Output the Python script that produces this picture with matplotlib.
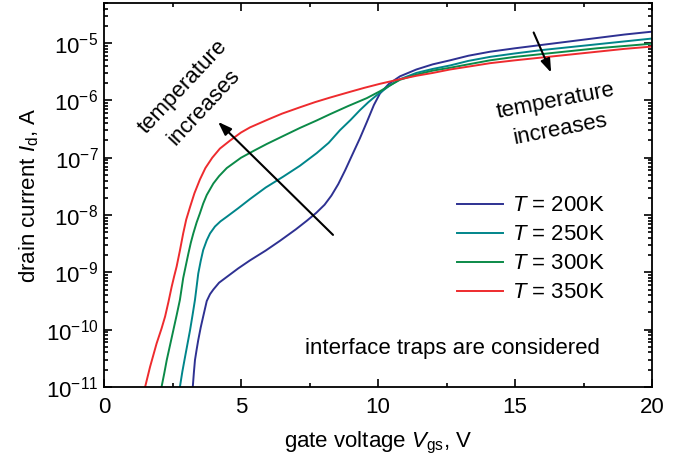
import numpy as np
import matplotlib
matplotlib.use("Agg")
import matplotlib.pyplot as plt
from matplotlib.ticker import FixedLocator, LogLocator, NullFormatter, FuncFormatter, MultipleLocator

plt.rcParams['font.family'] = ['Liberation Sans', 'DejaVu Sans']
plt.rcParams['mathtext.fontset'] = 'custom'
plt.rcParams['mathtext.rm'] = 'Liberation Sans'
plt.rcParams['mathtext.it'] = 'Liberation Sans:italic'

# ---- data (gate voltage V, log10 of drain current in A) ----
v_200 = [3.24, 3.28, 3.32, 3.38, 3.44, 3.53, 3.62, 3.75, 3.87, 3.99, 4.20, 4.48, 4.90, 5.33, 5.90, 6.42,
         7.00, 7.40, 7.75, 8.05, 8.30, 8.55, 8.80, 9.05, 9.34, 9.59, 9.85, 10.07, 10.40, 10.80, 11.40, 12.00, 12.63,
         13.30, 14.09, 15.0, 16.0, 17.0, 18.0, 19.0, 20.0]
l_200 = [-11.0, -10.75, -10.53, -10.35, -10.18, -9.96, -9.77, -9.50, -9.38, -9.30, -9.18, -9.08, -8.93, -8.79, -8.62, -8.45,
         -8.25, -8.10, -7.96, -7.82, -7.66, -7.46, -7.22, -6.96, -6.66, -6.38, -6.08, -5.88, -5.71, -5.58, -5.46, -5.37, -5.30,
         -5.22, -5.15, -5.09, -5.03, -4.97, -4.91, -4.85, -4.80]

v_250 = [2.77, 2.86, 2.96, 3.05, 3.14, 3.23, 3.32, 3.38, 3.44, 3.53, 3.62, 3.75, 3.87, 4.05, 4.25, 4.48, 4.90,
         5.33, 5.90, 6.54, 7.15, 7.76, 8.20, 8.61, 9.00, 9.34, 9.65, 9.95, 10.40, 10.80, 11.40, 12.00, 12.63,
         13.30, 14.09, 15.0, 16.0, 17.0, 18.0, 19.0, 20.0]
l_250 = [-11.0, -10.73, -10.47, -10.24, -10.01, -9.75, -9.48, -9.25, -9.02, -8.80, -8.61, -8.44, -8.32, -8.20, -8.11, -8.03, -7.88,
         -7.72, -7.52, -7.33, -7.14, -6.92, -6.74, -6.52, -6.34, -6.17, -6.03, -5.91, -5.75, -5.63, -5.52, -5.45, -5.39,
         -5.31, -5.24, -5.18, -5.12, -5.07, -5.02, -4.97, -4.92]

v_300 = [2.10, 2.20, 2.29, 2.41, 2.53, 2.65, 2.77, 2.89, 3.00, 3.08, 3.17, 3.26, 3.38, 3.50, 3.62, 3.75, 3.99,
         4.20, 4.48, 5.00, 5.50, 5.94, 6.50, 7.15, 7.76, 8.25, 8.90, 9.59, 10.07, 10.50, 10.80, 11.40, 12.00,
         12.63, 13.30, 14.09, 15.0, 16.0, 17.0, 18.0, 19.0, 20.0]
l_300 = [-11.0, -10.76, -10.53, -10.27, -10.01, -9.75, -9.48, -9.10, -8.85, -8.67, -8.48, -8.32, -8.13, -7.97, -7.80, -7.65, -7.45,
         -7.32, -7.18, -7.00, -6.87, -6.76, -6.63, -6.48, -6.35, -6.24, -6.10, -5.96, -5.84, -5.72, -5.64, -5.55, -5.48,
         -5.43, -5.37, -5.30, -5.24, -5.19, -5.14, -5.09, -5.05, -5.01]

v_350 = [1.50, 1.68, 1.92, 2.10, 2.23, 2.35, 2.47, 2.56, 2.65, 2.77, 2.89, 3.00, 3.14, 3.30, 3.50, 3.70, 3.95,
         4.23, 4.60, 5.00, 5.33, 6.00, 6.50, 7.15, 7.70, 8.25, 8.98, 9.50, 10.07, 10.80, 11.40, 12.00, 12.63,
         13.30, 14.09, 15.0, 16.0, 17.0, 18.0, 19.0, 20.0]
l_350 = [-11.0, -10.65, -10.24, -9.98, -9.77, -9.52, -9.25, -9.07, -8.90, -8.62, -8.32, -8.08, -7.86, -7.62, -7.38, -7.18, -7.00,
         -6.84, -6.70, -6.56, -6.47, -6.33, -6.23, -6.12, -6.03, -5.95, -5.85, -5.78, -5.71, -5.63, -5.57, -5.52, -5.46,
         -5.41, -5.35, -5.30, -5.25, -5.20, -5.15, -5.10, -5.06]

temps = ['200K', '250K', '300K', '350K']
colors = ['#2e3192', '#00858a', '#0b8a48', '#ee2b2e']
series_v = [v_200, v_250, v_300, v_350]
series_l = [l_200, l_250, l_300, l_350]

FS = 16

fig = plt.figure(figsize=(6.9, 4.63), dpi=100)
ax = fig.add_axes([104/690, (463-387)/463, (652-104)/690, (387-3)/463])

for T, c, vv, ll in zip(temps, colors, series_v, series_l):
    ax.plot(vv, 10**np.array(ll), color=c, lw=1.4, label=r'$\mathit{T}$ = ' + T,
            solid_joinstyle='round')

ax.set_yscale('log')
ax.set_xlim(0, 20)
ax.set_ylim(1e-11, 10**-4.30)

ax.xaxis.set_major_locator(MultipleLocator(5))
ax.xaxis.set_minor_locator(MultipleLocator(2.5))
ax.yaxis.set_major_locator(FixedLocator([1e-11, 1e-10, 1e-9, 1e-8, 1e-7, 1e-6, 1e-5]))
ax.yaxis.set_minor_locator(LogLocator(base=10, subs=np.arange(2, 10), numticks=20))
ax.yaxis.set_minor_formatter(NullFormatter())
ax.yaxis.set_major_formatter(FuncFormatter(lambda y, p: r'$\mathregular{10^{%d}}$' % int(round(np.log10(y)))))

ax.tick_params(which='both', direction='in', top=True, right=True, labelsize=FS, width=1.2)
ax.tick_params(which='major', length=6)
ax.tick_params(which='minor', length=3)
ax.tick_params(axis='x', pad=7)
ax.tick_params(axis='y', pad=4)
for s in ax.spines.values():
    s.set_linewidth(1.3)

ax.set_xlabel(r'gate voltage $\mathit{V}_{\mathregular{gs}}$, V', fontsize=FS, labelpad=9)
ax.set_ylabel(r'drain current $\mathit{I}_{\mathregular{d}}$, A', fontsize=FS, labelpad=3)

leg = ax.legend(loc='upper left', bbox_to_anchor=(0.628, 0.522), borderaxespad=0, frameon=False, fontsize=FS,
                handlelength=2.07, handletextpad=0.4, labelspacing=0.36)

# arrows
arrow_style = '-|>,head_length=0.45,head_width=0.16'
ax.annotate('', xy=(4.09, 10**-6.34), xytext=(8.43, 10**-8.38),
            arrowprops=dict(arrowstyle=arrow_style, color='black', lw=1.5, mutation_scale=18))
ax.annotate('', xy=(16.36, 10**-5.56), xytext=(15.64, 10**-4.77),
            arrowprops=dict(arrowstyle=arrow_style, color='black', lw=1.5, mutation_scale=18))

ax.text(3.28, 10**-5.94, 'temperature\nincreases', rotation=47, ha='center', va='center',
        fontsize=FS, linespacing=1.5, multialignment='center', rotation_mode='anchor')
ax.text(16.57, 10**-6.26, 'temperature\nincreases', rotation=11, ha='center', va='center',
        fontsize=FS, linespacing=1.45, multialignment='center', rotation_mode='anchor')
ax.text(12.7, 10**-10.32, 'interface traps are considered', ha='center', va='center', fontsize=FS)

fig.savefig('out.png', dpi=100)
